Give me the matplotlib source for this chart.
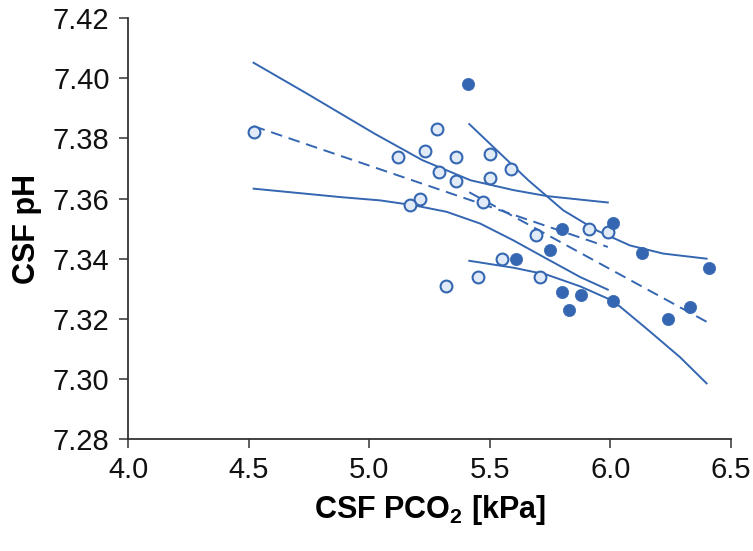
import matplotlib
matplotlib.use("Agg")
import matplotlib.pyplot as plt

# --- data ---
open_x = [4.52, 5.12, 5.23, 5.28, 5.29, 5.36, 5.36, 5.50, 5.50, 5.59,
          5.47, 5.21, 5.17, 5.69, 5.91, 5.99, 5.55, 5.71, 5.45, 5.32]
open_y = [7.382, 7.374, 7.376, 7.383, 7.369, 7.374, 7.366, 7.375, 7.367, 7.370,
          7.359, 7.360, 7.358, 7.348, 7.350, 7.349, 7.340, 7.334, 7.334, 7.331]

filled_x = [5.41, 5.80, 6.01, 5.75, 5.61, 6.13, 6.41, 5.80, 5.88, 5.83,
            6.01, 6.24, 6.33]
filled_y = [7.398, 7.350, 7.352, 7.343, 7.340, 7.342, 7.337, 7.329, 7.328, 7.323,
            7.326, 7.320, 7.324]

# regression lines (end points) and 95% bands
open_fit_x = [4.52, 5.99]
open_fit_y = [7.3841, 7.3439]
open_up_x = [4.52, 4.74, 5.02, 5.22, 5.42, 5.60, 5.74, 5.99]
open_up_y = [7.4052, 7.3950, 7.3817, 7.3728, 7.3661, 7.3628, 7.3608, 7.3587]
open_lo_x = [4.52, 4.88, 5.045, 5.183, 5.321, 5.46, 5.598, 5.736, 5.875, 5.99]
open_lo_y = [7.3633, 7.3605, 7.3594, 7.3578, 7.3556, 7.3517, 7.3461, 7.3400, 7.3339, 7.3297]

filled_fit_x = [5.415, 6.40]
filled_fit_y = [7.3621, 7.3190]
filled_up_x = [5.415, 5.66, 5.805, 5.944, 6.082, 6.22, 6.40]
filled_up_y = [7.3848, 7.3661, 7.3561, 7.3494, 7.3444, 7.3417, 7.3400]
filled_lo_x = [5.415, 5.598, 5.736, 5.875, 6.013, 6.151, 6.29, 6.40]
filled_lo_y = [7.3393, 7.3370, 7.3347, 7.3308, 7.3259, 7.3167, 7.3072, 7.2985]

xticks = [4.0, 4.5, 5.0, 5.5, 6.0, 6.5]
yticks = [7.28, 7.30, 7.32, 7.34, 7.36, 7.38, 7.40, 7.42]

blue = '#3466b1'
light = '#e1ebf7'

plt.rcParams['font.family'] = ['Liberation Sans', 'DejaVu Sans']

fig = plt.figure(figsize=(7.53, 5.51), dpi=100)
ax = fig.add_axes([0.1704, 0.2033, 0.8, 0.7635])

lw = 1.4
for xs, ys in [(open_up_x, open_up_y), (open_lo_x, open_lo_y),
               (filled_up_x, filled_up_y), (filled_lo_x, filled_lo_y)]:
    ax.plot(xs, ys, color=blue, lw=lw, zorder=2, solid_joinstyle='round')
ax.plot(open_fit_x, open_fit_y, color=blue, lw=lw, ls=(0, (6, 3.5)), zorder=2)
ax.plot(filled_fit_x, filled_fit_y, color=blue, lw=lw, ls=(0, (6, 3.5)), zorder=2)

ax.plot(open_x, open_y, 'o', ms=8.5, mfc=light, mec=blue, mew=1.5, zorder=3)
ax.plot(filled_x, filled_y, 'o', ms=8.8, mfc=blue, mec=blue, mew=0.5, zorder=3)

ax.set_xlim(4.0, 6.5)
ax.set_ylim(7.28, 7.42)
ax.set_xticks(xticks)
ax.set_yticks(yticks)
ax.set_xticklabels([f'{v:.1f}' for v in xticks])
ax.set_yticklabels([f'{v:.2f}' for v in yticks])

for s in ['top', 'right']:
    ax.spines[s].set_visible(False)
for s in ['left', 'bottom']:
    ax.spines[s].set_color('#333333')
    ax.spines[s].set_linewidth(1.3)
ax.tick_params(direction='out', length=6.5, width=1.1, color='#333333',
               labelsize=21, labelcolor='#111111')
ax.tick_params(axis='y', pad=7)
ax.tick_params(axis='x', pad=6)

ax.set_xlabel('CSF PCO$_\\mathregular{2}$ [kPa]', fontsize=22, fontweight='bold', labelpad=6)
ax.set_ylabel('CSF pH', fontsize=22, fontweight='bold', labelpad=8)

fig.savefig('out.png', dpi=100)
